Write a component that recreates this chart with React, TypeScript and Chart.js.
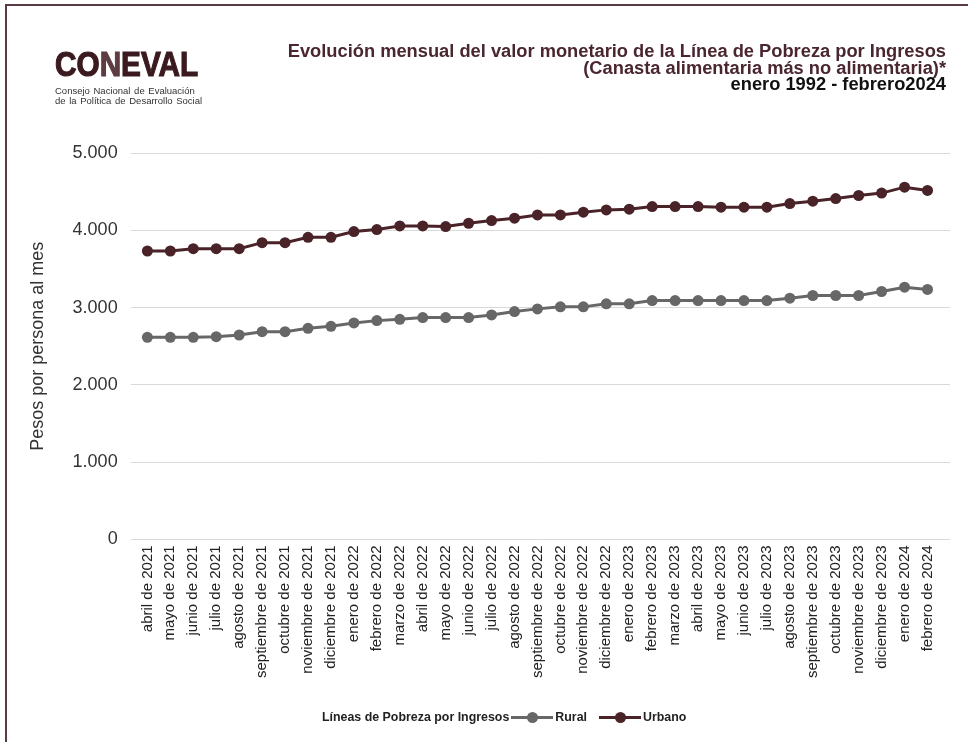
import React, { useEffect, useRef } from 'react';
import { Chart, registerables } from 'chart.js';

Chart.register(...registerables);

const FONT = '"Liberation Sans", Arial, Helvetica, sans-serif';

const months = [
  'abril de 2021', 'mayo de 2021', 'junio de 2021', 'julio de 2021', 'agosto de 2021',
  'septiembre de 2021', 'octubre de 2021', 'noviembre de 2021', 'diciembre de 2021',
  'enero de 2022', 'febrero de 2022', 'marzo de 2022', 'abril de 2022', 'mayo de 2022',
  'junio de 2022', 'julio de 2022', 'agosto de 2022', 'septiembre de 2022', 'octubre de 2022',
  'noviembre de 2022', 'diciembre de 2022', 'enero de 2023', 'febrero de 2023', 'marzo de 2023',
  'abril de 2023', 'mayo de 2023', 'junio de 2023', 'julio de 2023', 'agosto de 2023',
  'septiembre de 2023', 'octubre de 2023', 'noviembre de 2023', 'diciembre de 2023',
  'enero de 2024', 'febrero de 2024',
];

const rural = [
  2615, 2615, 2615, 2623, 2645, 2688, 2688, 2732, 2758, 2801, 2831, 2848, 2870, 2870, 2870,
  2905, 2948, 2983, 3009, 3009, 3048, 3048, 3091, 3091, 3091, 3091, 3091, 3091, 3121, 3156,
  3156, 3156, 3208, 3264, 3234,
];

const urbano = [
  3732, 3732, 3762, 3762, 3762, 3840, 3840, 3909, 3909, 3983, 4009, 4056, 4056, 4048, 4091,
  4126, 4156, 4199, 4199, 4234, 4264, 4273, 4307, 4307, 4307, 4299, 4299, 4299, 4346, 4377,
  4411, 4450, 4481, 4558, 4515,
];

const yTicks = [0, 1000, 2000, 3000, 4000, 5000];

const RURAL_COLOR = '#676767';
const URBANO_COLOR = '#4a2329';

const fmt = (v: number) => (v === 0 ? '0' : `${Math.floor(v / 1000)}.${String(v % 1000).padStart(3, '0')}`);

function LegendSymbol({ color }: { color: string }) {
  return (
    <span style={{ position: 'relative', display: 'inline-block', width: 42, height: 12, margin: '0 2px' }}>
      <span style={{ position: 'absolute', left: 0, right: 0, top: 5, height: 3, background: color }} />
      <span style={{ position: 'absolute', left: 16, top: 1, width: 11, height: 11, borderRadius: '50%', background: color }} />
    </span>
  );
}

export default function App() {
  const ref = useRef<HTMLCanvasElement>(null);

  useEffect(() => {
    const chart = new Chart(ref.current!, {
      type: 'line',
      data: {
        datasets: [
          {
            label: 'Rural',
            data: rural.map((v, i) => ({ x: i, y: v })),
            borderColor: RURAL_COLOR,
            backgroundColor: RURAL_COLOR,
            pointBackgroundColor: RURAL_COLOR,
            pointBorderWidth: 0,
            pointRadius: 5.5,
            borderWidth: 3,
            tension: 0,
          },
          {
            label: 'Urbano',
            data: urbano.map((v, i) => ({ x: i, y: v })),
            borderColor: URBANO_COLOR,
            backgroundColor: URBANO_COLOR,
            pointBackgroundColor: URBANO_COLOR,
            pointBorderWidth: 0,
            pointRadius: 5.5,
            borderWidth: 3,
            tension: 0,
          },
        ],
      },
      options: {
        responsive: false,
        animation: false,
        layout: { padding: { left: 22, top: 153, right: 18, bottom: 58 } },
        plugins: { legend: { display: false }, tooltip: { enabled: false }, title: { display: false } },
        scales: {
          x: {
            type: 'linear',
            min: -0.73,
            max: 34.98,
            grid: { display: false, drawTicks: false },
            border: { display: false },
            afterBuildTicks: (s: any) => {
              s.ticks = months.map((_, i) => ({ value: i }));
            },
            ticks: {
              autoSkip: false,
              maxRotation: 90,
              minRotation: 90,
              padding: 6,
              color: '#222',
              font: { family: FONT, size: 15 },
              callback: (v: any) => months[v as number] ?? '',
            },
          },
          y: {
            min: 0,
            max: 5000,
            afterBuildTicks: (s: any) => {
              s.ticks = yTicks.map((v) => ({ value: v }));
            },
            grid: { color: '#d9d9d9', drawTicks: false, lineWidth: 1 },
            border: { display: false },
            ticks: {
              padding: 13,
              color: '#333',
              font: { family: FONT, size: 18 },
              callback: (v: any) => fmt(Number(v)),
            },
            title: {
              display: true,
              text: 'Pesos por persona al mes',
              color: '#333',
              font: { family: FONT, size: 18 },
              padding: { top: 5, bottom: 11 },
            },
          },
        },
      },
    });
    return () => chart.destroy();
  }, []);

  return (
    <div style={{ position: 'fixed', left: 0, top: 0, width: 968, height: 742, overflow: 'hidden', background: '#fff', fontFamily: FONT }}>
      <div style={{ position: 'absolute', left: 5, top: 4, width: 1200, height: 1200, borderLeft: '2px solid #5b3b42', borderTop: '2px solid #5b3b42' }} />
      <canvas ref={ref} width={968} height={742} style={{ position: 'absolute', left: 0, top: 0 }} />

      {/* Logo */}
      <div style={{ position: 'absolute', left: 55, top: 44, whiteSpace: 'nowrap' }}>
        <div style={{ fontFamily: FONT, fontWeight: 900, fontSize: 35, lineHeight: '40px', color: '#3b1a1f', transform: 'scaleX(0.85)', transformOrigin: 'left top', WebkitTextStroke: '1.2px #3b1a1f' }}>
          CO<span style={{ color: '#5e3d42', WebkitTextStroke: '1.2px #5e3d42' }}>N</span>EVAL
        </div>
        <div style={{ fontSize: 9.5, lineHeight: '10px', color: '#333', marginTop: 2, wordSpacing: 1 }}>
          Consejo Nacional de Evaluación
          <br />
          de la Política de Desarrollo Social
        </div>
      </div>

      {/* Title */}
      <div style={{ position: 'absolute', right: 22, top: 43, textAlign: 'right', fontWeight: 'bold', fontSize: 18.3, lineHeight: '16.5px', whiteSpace: 'nowrap' }}>
        <div style={{ color: '#4a2730' }}>Evolución mensual del valor monetario de la Línea de Pobreza por Ingresos</div>
        <div style={{ color: '#4a2730' }}>(Canasta alimentaria más no alimentaria)*</div>
        <div style={{ color: '#111' }}>enero 1992 - febrero2024</div>
      </div>

      {/* Legend */}
      <div style={{ position: 'absolute', left: 322, top: 709, height: 16, display: 'flex', alignItems: 'center', fontSize: 12.4, fontWeight: 'bold', color: '#222', whiteSpace: 'nowrap' }}>
        <span>Líneas de Pobreza por Ingresos</span>
        <LegendSymbol color={RURAL_COLOR} />
        <span>Rural</span>
        <span style={{ width: 10 }} />
        <LegendSymbol color={URBANO_COLOR} />
        <span>Urbano</span>
      </div>
    </div>
  );
}
